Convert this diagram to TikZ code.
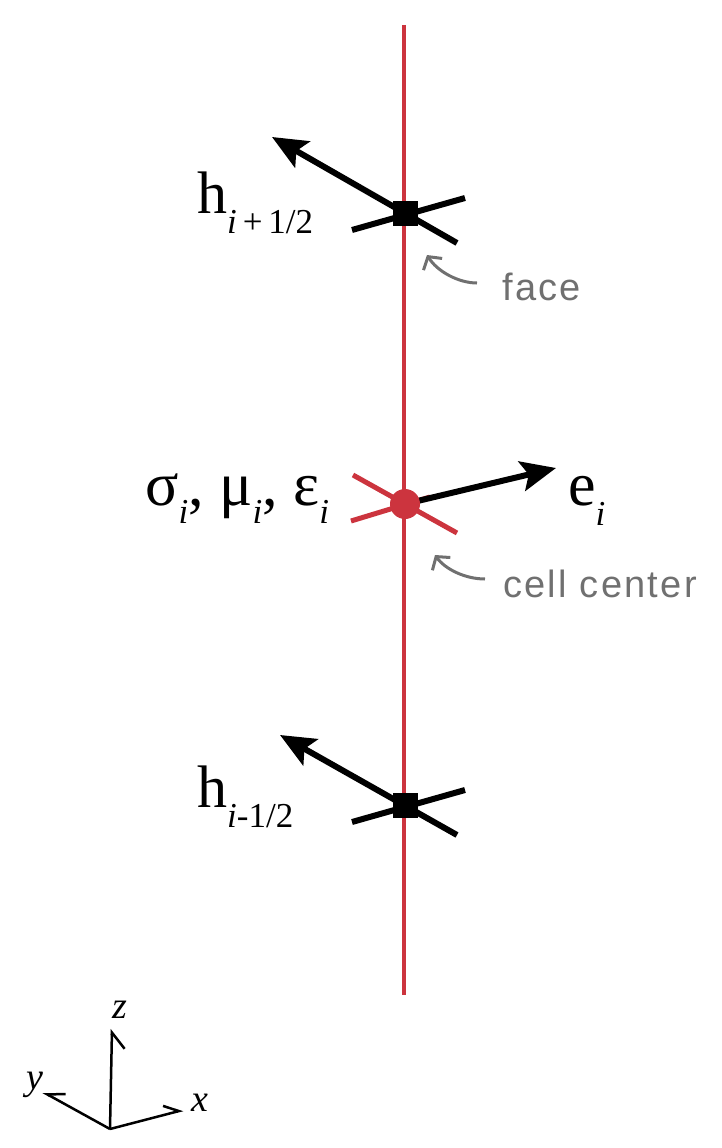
\documentclass[tikz,border=0pt]{standalone}
\usepackage{fontspec}
\setmainfont{Liberation Serif}
\newfontfamily\grayfont[LetterSpace=6]{Liberation Sans}
\usetikzlibrary{arrows.meta}
\definecolor{cred}{RGB}{204,52,62}
\definecolor{cgray}{RGB}{112,112,112}
\newcommand{\mysub}[2]{\raisebox{-#1pt}{\fontsize{35}{35}\selectfont #2}}
\begin{document}
\begin{tikzpicture}[x=1pt,y=-1pt,
  redline/.style={cred, line width=4.5pt},
  crossline/.style={black, line width=6pt},
  redcross/.style={cred, line width=5pt},
  vecarrow/.style={black, line width=6pt, -{Stealth[length=35pt,width=30pt,inset=7pt]}},
  ptr/.style={cgray, line width=3pt, -{Straight Barb[length=9pt,width=22pt]}},
  facesq/.style={fill=black, minimum size=25pt, inner sep=0pt},
  cellpt/.style={circle, fill=cred, minimum size=30pt, inner sep=0pt},
  biglbl/.style={inner sep=0pt, anchor=base west, font=\fontsize{60}{60}\selectfont},
  midlbl/.style={inner sep=0pt, anchor=base west, font=\fontsize{62}{62}\selectfont},
  graylbl/.style={inner sep=0pt, anchor=base west, text=cgray, font=\grayfont\fontsize{38}{38}\selectfont},
  axis/.style={black, line width=2.5pt},
  axlbl/.style={inner sep=0pt, font=\fontsize{38}{38}\selectfont\itshape}
]
\useasboundingbox (0,0) rectangle (722,1148);

% main red line
\coordinate (top) at (404,25);
\coordinate (bot) at (404,995);
\draw[redline] (top) -- (bot);

% upper face
\coordinate (fa) at (405,213);
\coordinate (fa1) at (352,230);
\coordinate (fa2) at (465,198);
\coordinate (fatail) at (457,243);
\coordinate (fatip) at (272,137);
\draw[crossline] (fa1) -- (fa2);
\draw[vecarrow] (fatail) -- (fatip);
\node[facesq] (fsq) at (fa) {};
\node[biglbl] (hup) at (197,213) {h\mysub{20}{\textit{i}\,+\,1/2}};

% face pointer
\coordinate (fp1) at (477,283);
\coordinate (fp2) at (427,255);
\draw[ptr] (fp1) .. controls (458,283) and (437,271) .. (fp2);
\node[graylbl] (facetxt) at (502,300) {face};

% cell center
\coordinate (cc) at (405,504);
\coordinate (cr1) at (353,475);
\coordinate (cr2) at (457,533);
\coordinate (cr3) at (351,521);
\coordinate (cr4) at (430,497);
\coordinate (etip) at (556,468);
\draw[redcross] (cr1) -- (cr2);
\draw[redcross] (cr3) -- (cr4);
\draw[vecarrow] (cc) -- (etip);
\node[cellpt] (cpt) at (cc) {};
\node[midlbl] (mat) at (145,505) {σ\mysub{18}{\textit{i}}, μ\mysub{18}{\textit{i}}, ε\mysub{18}{\textit{i}}};
\node[midlbl] (elbl) at (568,505) {e\mysub{20}{\textit{i}}};

% cell center pointer
\coordinate (cp1) at (485,579);
\coordinate (cp2) at (435,555);
\draw[ptr] (cp1) .. controls (465,579) and (445,569) .. (cp2);
\node[graylbl] (celltxt) at (503,597) {cell center};

% lower face
\coordinate (fb) at (405,805);
\coordinate (fb1) at (352,822);
\coordinate (fb2) at (465,790);
\coordinate (fbtail) at (457,835);
\coordinate (fbtip) at (280,735);
\draw[crossline] (fb1) -- (fb2);
\draw[vecarrow] (fbtail) -- (fbtip);
\node[facesq] (fsqb) at (fb) {};
\node[biglbl] (hdn) at (197,807) {h\mysub{20}{\textit{i}-1/2}};

% axis triad
\coordinate (o) at (110,1129);
\coordinate (zt) at (112,1029);
\coordinate (yt) at (43,1092);
\coordinate (xt) at (183,1110);
\draw[axis, -{Straight Barb[right, length=16pt, width=26pt]}] (o) -- (zt);
\draw[axis, -{Straight Barb[right, length=16pt, width=18pt]}] (o) -- (yt);
\draw[axis, -{Straight Barb[left, length=14pt, width=18pt]}] (o) -- (xt);
\node[axlbl] (zl) at (120,1010) {z};
\node[axlbl] (yl) at (35,1085) {y};
\node[axlbl] (xl) at (200,1103) {x};
\end{tikzpicture}
\end{document}
